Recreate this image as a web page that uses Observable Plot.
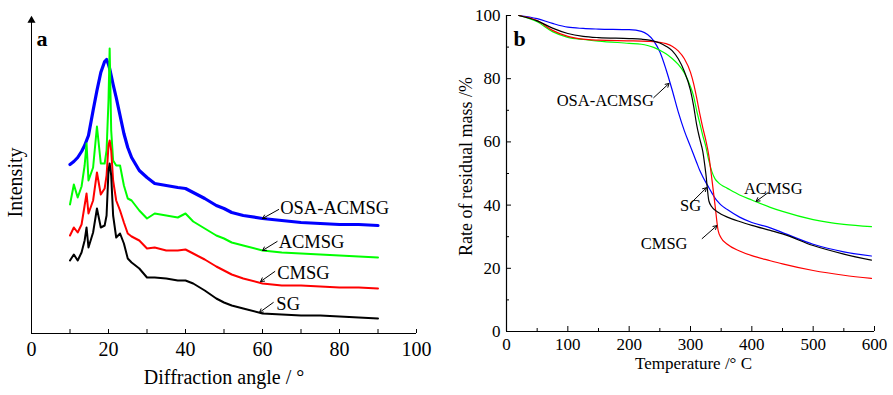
<!DOCTYPE html>
<html>
<head>
<meta charset="utf-8">
<script src="https://cdn.jsdelivr.net/npm/d3@7"></script>
<script src="https://cdn.jsdelivr.net/npm/@observablehq/plot@0.6"></script>
<style>
  html, body { margin: 0; padding: 0; background: #fff; }
  #wrap { position: relative; width: 893px; height: 395px; overflow: hidden; }
  #pa, #pb { position: absolute; top: 0; }
  #pa { left: 0; }
  #pb { left: 450px; }
</style>
</head>
<body>
<div id="wrap"><div id="pa"></div><div id="pb"></div></div>
<script>
// ---------- Panel a: XRD ----------
const seriesNames = ["SG", "CMSG", "ACMSG", "OSA-ACMSG"];
const seriesColors = ["#000000", "#ff0000", "#00ff00", "#0000ff"];

const angles = [10, 11, 12, 13, 13.8, 14.3, 14.8, 16, 17, 18, 19, 19.5, 20, 20.3, 20.7, 21.2, 22, 23, 24, 25, 26, 28, 30, 32, 35, 38, 40, 42, 45, 48, 50, 52, 55, 60, 65, 70, 75, 80, 85, 90];
const xrdSG    = [73, 79, 73, 81, 93, 106, 86, 101, 125, 106, 108, 118, 163, 170, 158, 118, 96, 100, 90, 75, 71, 65, 56, 56, 55, 53, 53, 50, 43, 35, 31, 28, 25, 20, 19, 18, 18, 17, 16, 15];
const xrdCMSG  = [98, 106, 101, 109, 128, 140, 120, 133, 161, 139, 145, 158, 188, 193, 183, 153, 133, 123, 111, 100, 97, 93, 85, 86, 83, 83, 84, 80, 74, 67, 63, 59, 55, 50, 48, 48, 47, 46, 46, 45];
const xrdACMSG = [129, 149, 136, 147, 168, 190, 153, 166, 207, 170, 170, 183, 233, 285, 203, 173, 168, 168, 148, 135, 133, 123, 115, 120, 118, 116, 120, 112, 105, 98, 95, 91, 88, 83, 81, 80, 79, 78, 77, 76];
const xrdOSA   = [169, 172, 176, 182, 188, 193, 198, 223, 243, 261, 272, 274, 269, 265, 258, 249, 236, 218, 200, 186, 176, 163, 156, 150, 148, 146, 145, 141, 135, 128, 125, 121, 118, 115, 113, 111, 110, 109, 109, 108];
const xTicksA = [0, 20, 40, 60, 80, 100];

// label annotations (data coordinates)
const labelsA = [
  {name: "OSA-ACMSG", tx: 64.6, ty: 125, x1: 64.2, y1: 124, x2: 60, y2: 115},
  {name: "ACMSG",     tx: 64.2, ty: 91,  x1: 63.8, y1: 92,  x2: 60, y2: 83},
  {name: "CMSG",      tx: 63.8, ty: 60,  x1: 63.2, y1: 62,  x2: 59.5, y2: 52},
  {name: "SG",        tx: 63.6, ty: 29,  x1: 62.8, y1: 31,  x2: 59.2, y2: 21}
];

const xrdValues = [xrdSG, xrdCMSG, xrdACMSG, xrdOSA];
const xrd = seriesNames.map((s, i) => angles.map((a, j) => ({series: s, angle: a, value: xrdValues[i][j]})));

const font = "'Liberation Serif', 'Times New Roman', serif";
const yMaxA = 316;

const lineWidthsA = [2, 2, 2, 3.2];
const drawOrderA = [3, 2, 1, 0];

const plotA = Plot.plot({
  width: 445, height: 395,
  marginLeft: 31, marginRight: 29, marginTop: 17, marginBottom: 62,
  style: {fontFamily: font, background: "transparent", color: "#000"},
  x: {domain: [0, 100]},
  y: {domain: [0, yMaxA], axis: null},
  marks: [
    ...drawOrderA.map(i => Plot.line(xrd[i], {x: "angle", y: "value", stroke: seriesColors[i], strokeWidth: lineWidthsA[i], curve: "linear"})),
    Plot.ruleY([0], {stroke: "#000", strokeWidth: 1}),
    Plot.ruleX([0], {stroke: "#000", strokeWidth: 1}),
    Plot.dot([yMaxA], {x: () => 0, y: d => d, symbol: "triangle", r: 3, fill: "#000", stroke: "none", dy: 3}),
    Plot.tickX(d3.range(10, 101, 10), {x: d => d, insetTop: 312, stroke: "#000"}),
    Plot.axisX({ticks: xTicksA, tickSize: 0, tickPadding: 8, fontSize: 20, label: null, tickFormat: d => d}),
    Plot.text(["Intensity"], {frameAnchor: "left", rotate: -90, textAnchor: "middle", dx: -16, dy: 7, fontSize: 20}),
    Plot.text(["a"], {frameAnchor: "top-left", dx: 5, dy: 13, fontSize: 22, fontWeight: "bold", textAnchor: "start"}),
    Plot.text(["Diffraction angle / °"], {frameAnchor: "bottom", dy: 50, fontSize: 20}),
    Plot.arrow(labelsA, {x1: "x1", y1: "y1", x2: "x2", y2: "y2", stroke: "#000", strokeWidth: 1, headLength: 6}),
    Plot.text(labelsA, {x: "tx", y: "ty", text: "name", textAnchor: "start", fontSize: 18.5})
  ]
});
document.getElementById("pa").appendChild(plotA);

// ---------- Panel b: TGA ----------
const temps   = [20, 50, 75, 100, 125, 150, 200, 220, 230, 240, 250, 260, 270, 280, 290, 300, 305, 310, 315, 320, 325, 330, 335, 340, 345, 350, 360, 380, 400, 430, 450, 500, 550, 595];
const tgaSG    = [100, 98.3, 96.0, 94.3, 93.4, 93.0, 92.7, 92.5, 92.3, 91.9, 91.3, 90.3, 88.9, 86.3, 82.3, 76.3, 71.5, 65.5, 61, 57, 50, 41.3, 39.4, 38.4, 37.7, 37.1, 36.2, 34.8, 33.6, 32.0, 30.9, 27.2, 24.5, 22.6];
const tgaCMSG  = [100, 98.4, 95.3, 93.4, 92.5, 92.2, 92.0, 91.9, 91.8, 91.7, 91.5, 91.1, 90.3, 88.8, 86.3, 82.0, 78.5, 74, 69, 64.5, 60.5, 55.5, 48, 40, 32, 29.6, 27.6, 25.5, 24.0, 22.4, 21.4, 19.3, 17.8, 16.8];
const tgaACMSG = [100, 98.0, 94.9, 93.1, 92.4, 91.9, 91.2, 90.9, 90.5, 89.9, 89.0, 87.9, 86.4, 84.5, 81.8, 77.5, 74.5, 70, 66, 62, 58.5, 54, 50.5, 48.3, 47.2, 46.4, 45.3, 43.2, 41.6, 39.3, 38.0, 35.4, 33.9, 33.2];
const tgaOSA   = [100, 99.0, 97.5, 96.3, 95.9, 95.7, 95.5, 95.0, 94.0, 92.0, 88.5, 83.0, 76.5, 69.5, 63.5, 58.5, 56, 53.5, 51, 49, 47.2, 45.5, 43.8, 42.2, 41, 40, 38.6, 36.2, 34.5, 32.8, 31.3, 27.6, 25.2, 23.9];
const xTicksB = [0, 100, 200, 300, 400, 500, 600];
const yTicksB = [0, 20, 40, 60, 80, 100];

const labelsB = [
  {name: "OSA-ACMSG", tx: 161, ty: 73.1, anchor: "middle", x1: 240, y1: 74, x2: 265, y2: 78.5},
  {name: "ACMSG",     tx: 435, ty: 45.3, anchor: "start",  x1: 427, y1: 44, x2: 407, y2: 41.2},
  {name: "SG",        tx: 300, ty: 39.9, anchor: "end",    x1: 300, y1: 40.5, x2: 326, y2: 45.5},
  {name: "CMSG",      tx: 257, ty: 27.8, anchor: "middle", x1: 319, y1: 29.4, x2: 343, y2: 33.5}
];

const tgaValues = [tgaSG, tgaCMSG, tgaACMSG, tgaOSA];
const tga = seriesNames.map((s, i) => temps.map((t, j) => ({series: s, temp: t, mass: tgaValues[i][j]})));

const plotB = Plot.plot({
  width: 443, height: 395,
  marginLeft: 56, marginRight: 19, marginTop: 15, marginBottom: 64,
  style: {fontFamily: font, background: "transparent", color: "#000"},
  x: {domain: [0, 600]},
  y: {domain: [0, 100]},
  marks: [
    ...[3, 2, 1, 0].map(i => Plot.line(tga[i], {x: "temp", y: "mass", stroke: seriesColors[i], strokeWidth: 1.2, curve: "monotone-x"})),
    Plot.ruleY([0], {stroke: "#000", strokeWidth: 1.2}),
    Plot.ruleX([0], {stroke: "#000", strokeWidth: 1.2}),
    Plot.tickX(xTicksB, {x: d => d, insetTop: 311, stroke: "#000"}),
    Plot.tickX(d3.range(50, 600, 100), {x: d => d, insetTop: 313, stroke: "#000"}),
    Plot.tickY(yTicksB, {y: d => d, insetRight: 363, stroke: "#000"}),
    Plot.tickY(d3.range(10, 100, 20), {y: d => d, insetRight: 365, stroke: "#000"}),
    Plot.axisX({ticks: xTicksB, tickSize: 0, tickPadding: 6, fontSize: 17, label: null, tickFormat: d => d}),
    Plot.axisY({ticks: yTicksB, tickSize: 0, tickPadding: 6, fontSize: 17, label: null, tickFormat: d => d}),
    Plot.text(["Rate of residual mass /%"], {frameAnchor: "left", rotate: -90, textAnchor: "middle", dx: -40, dy: -7, fontSize: 18}),
    Plot.text(["b"], {frameAnchor: "top-left", dx: 7, dy: 15, fontSize: 22, fontWeight: "bold", textAnchor: "start"}),
    Plot.text(["Temperature /° C"], {frameAnchor: "bottom", dy: 37, dx: 3, fontSize: 17}),
    Plot.arrow(labelsB, {x1: "x1", y1: "y1", x2: "x2", y2: "y2", stroke: "#000", strokeWidth: 1, headLength: 6}),
    Plot.text(labelsB, {x: "tx", y: "ty", text: "name", textAnchor: d => d.anchor, fontSize: 16.5})
  ]
});
document.getElementById("pb").appendChild(plotB);
</script>
</body>
</html>
